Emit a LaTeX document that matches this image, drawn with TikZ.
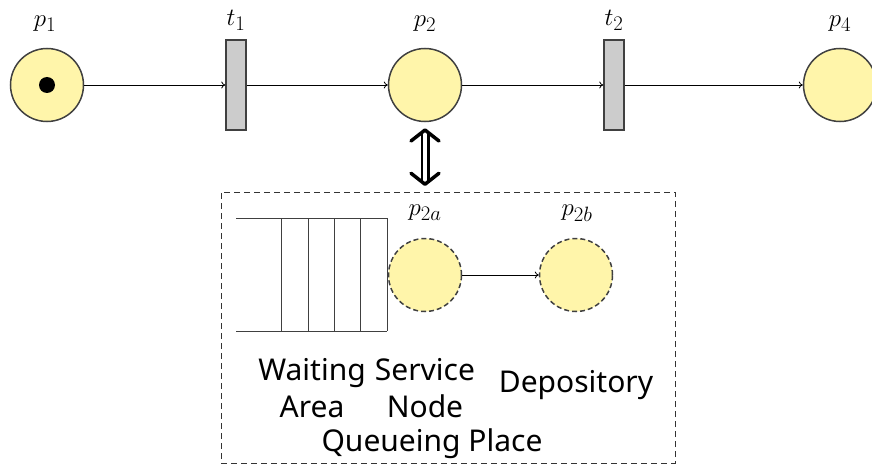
\documentclass[tikz,border=0pt]{standalone}
\usepackage{fontspec}
\setsansfont{Noto Sans}
\usetikzlibrary{arrows.meta}
\definecolor{placefill}{RGB}{255,245,170}
\definecolor{edgegray}{RGB}{64,64,64}
\definecolor{transfill}{RGB}{204,204,204}
\begin{document}
\begin{tikzpicture}[x=1pt,y=-1pt,
  place/.style={circle,draw=edgegray,fill=placefill,line width=1.5pt,minimum size=73pt,inner sep=0pt},
  subplace/.style={place,dashed,dash pattern=on 5pt off 3pt},
  transition/.style={rectangle,draw=edgegray,fill=transfill,line width=1.5pt,minimum width=20pt,minimum height=90pt,inner sep=0pt},
  arc/.style={-{To[length=4pt,width=7pt]},line width=0.8pt},
  mlabel/.style={font=\fontsize{32}{34}\selectfont},
  caption/.style={font=\sffamily\fontsize{30}{37}\selectfont,align=center},
  queue/.style={line width=1pt,draw=black!75},
  barb/.tip={Straight Barb[length=11pt,width=28pt,line width=3.5pt,line cap=round,line join=round]}]
\useasboundingbox (0,0) rectangle (872,468);
\begin{scope}
\clip (0,0) rectangle (872,468);
% upper net
\node[place] (p1) at (47,85) {};
\fill (p1.center) circle (8pt);
\node[transition] (t1) at (236,85) {};
\node[place] (p2) at (425,85) {};
\node[transition] (t2) at (614,85) {};
\node[place] (p4) at (840,85) {};
\node[mlabel] (lp1) at (45,24) {$p_1$};
\node[mlabel] (lt1) at (236,20) {$t_1$};
\node[mlabel] (lp2) at (425,24) {$p_2$};
\node[mlabel] (lt2) at (614,20) {$t_2$};
\node[mlabel] (lp4) at (840,24) {$p_4$};
\draw[arc] (p1) -- (t1);
\draw[arc] (t1) -- (p2);
\draw[arc] (p2) -- (t2);
\draw[arc] (t2) -- (p4);
\end{scope}
% queueing place
\coordinate (qtop) at (425,186);
\draw[line width=2.5pt,double distance=4pt,barb-barb] ([yshift=-6pt]p2.south) -- (qtop);
\node[draw=black!80,dashed,dash pattern=on 6pt off 4pt,line width=0.8pt,minimum width=454pt,minimum height=271pt,inner sep=0pt] (qp) at (448,327.5) {};
% waiting area
\draw[queue] (236,218) -- (387,218);
\draw[queue] (236,331) -- (387,331);
\foreach \xx in {281,308,334,360,387} \draw[queue] (\xx,218) -- (\xx,331);
\node[subplace] (p2a) at (425,275) {};
\node[subplace] (p2b) at (576,275) {};
\node[mlabel] (lp2a) at (425,213) {$p_{2a}$};
\node[mlabel] (lp2b) at (577,213) {$p_{2b}$};
\draw[arc] (p2a) -- (p2b);
\node[caption] (wa) at (312,388) {Waiting\\Area};
\node[caption] (sn) at (425,388) {Service\\Node};
\node[caption] (dep) at (576,385) {Depository};
\node[caption] (qpl) at (432,444) {Queueing Place};
\end{tikzpicture}
\end{document}
